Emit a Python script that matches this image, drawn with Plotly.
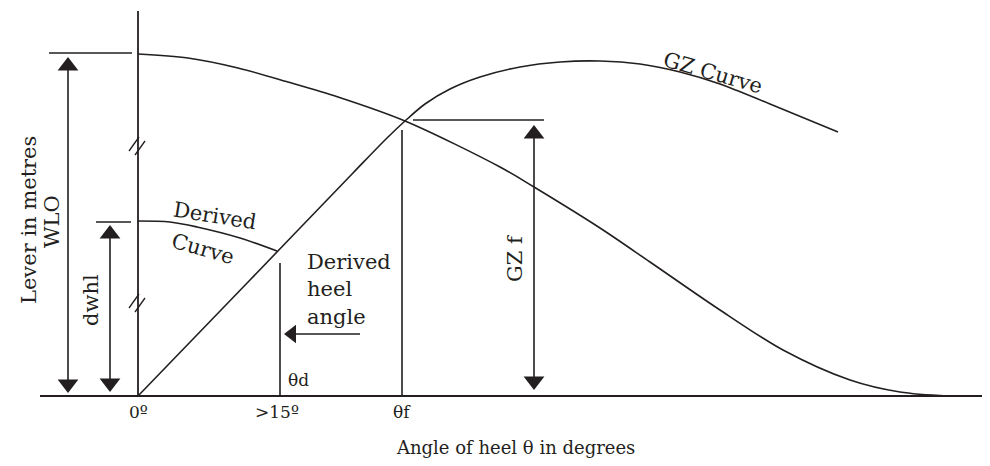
"""
Derived GZ / wind heeling lever diagram redrawn with Plotly.
Coordinates are read off the reference picture (pixel space, y downwards).
"""

import plotly.graph_objects as go

# --- data -----------------------------------------------------------------
# wind heeling lever curve (WLO)
wlo_x = [138, 188, 238, 288, 338, 405, 500, 534, 600, 650, 717, 783, 850, 900, 948]
wlo_y = [54, 58, 68, 82, 97, 121, 167, 187, 228, 262, 308, 350, 380, 392, 396]

# righting lever curve (GZ)
gz_x = [138, 250, 353, 387, 405, 425, 450, 480, 520, 560, 600, 640, 680, 720, 770, 838]
gz_y = [396, 280, 173, 138, 121, 104, 89, 77, 67, 62, 61, 64, 72, 84, 104, 132]

# derived (reduced) heeling lever curve
derived_x = [138, 170, 197, 240, 277]
derived_y = [221, 222, 227, 238, 251]

# tick labels along the heel axis
tick_pos = [138, 277, 402]
tick_labels = ["0º", ">15º", "θf"]

INK = "#231f20"
FONT = "DejaVu Serif"
PAGE_MARGIN = 8  # browser default body margin round the plot div

fig = go.Figure()


def add_line(xs, ys, shape="linear", width=1.6):
    fig.add_trace(go.Scatter(
        x=xs, y=ys, mode="lines",
        line=dict(color=INK, width=width, shape=shape, smoothing=0.9),
        hoverinfo="skip", showlegend=False,
    ))


def add_head(x, y, symbol, size=18):
    fig.add_trace(go.Scatter(
        x=[x], y=[y], mode="markers",
        marker=dict(symbol=symbol, size=size, color=INK, line=dict(width=0)),
        hoverinfo="skip", showlegend=False,
    ))


def add_double_arrow(x, top, bottom, size=18):
    half = size / 2
    add_line([x, x], [top + 4, bottom - 4])
    add_head(x, top + half, "triangle-up", size)
    add_head(x, bottom - half, "triangle-down", size)


# axes of the diagram
add_line([40, 990], [396, 396], width=1.8)
add_line([138, 138], [11, 396], width=1.8)

# axis break marks
for y0 in [143, 300]:
    add_line([129, 139], [y0 + 8, y0 - 6], width=1.3)
    add_line([135, 145], [y0 + 12, y0 - 2], width=1.3)

# curves
add_line(wlo_x, wlo_y, shape="spline")
add_line(gz_x, gz_y, shape="spline")
add_line(derived_x, derived_y, shape="spline")

# reference lines
add_line([49, 132], [53, 53])
add_line([96, 131], [222, 222])
add_line([413, 544], [120, 120])
add_line([280, 280], [263, 396])
add_line([402, 402], [130, 396])

# dimension arrows
add_double_arrow(68, 57, 393)
add_double_arrow(110, 225, 392)
add_double_arrow(534, 125, 390)

# derived heel angle pointer
add_line([292, 360], [334, 334])
add_head(292, 334, "triangle-left", 16)

annotations = [
    dict(x=29, y=220, text="Lever in metres", textangle=-90, size=21),
    dict(x=52, y=222, text="WLO", textangle=-90, size=21),
    dict(x=91, y=300, text="dwhl", textangle=-90, size=21),
    dict(x=515, y=258, text="GZ f", textangle=-90, size=21),
    dict(x=215, y=216, text="Derived", textangle=9, size=21),
    dict(x=203, y=249, text="Curve", textangle=16, size=21),
    dict(x=713, y=73, text="GZ Curve", textangle=16, size=21),
    dict(x=298, y=380, text="θd", textangle=0, size=17),
    dict(x=515, y=447, text="Angle of heel θ in degrees", textangle=0, size=18),
]
for a in annotations:
    fig.add_annotation(
        x=a["x"], y=a["y"], xref="x", yref="y", text=a["text"],
        textangle=a["textangle"], showarrow=False,
        font=dict(family=FONT, size=a["size"], color=INK),
    )

for label, ypos in zip(["Derived", "heel", "angle"], [262, 289, 317]):
    fig.add_annotation(
        x=305, y=ypos, xref="x", yref="y", text=label, xanchor="left",
        showarrow=False, font=dict(family=FONT, size=21, color=INK),
    )

for xpos, label in zip(tick_pos, tick_labels):
    fig.add_annotation(
        x=xpos, y=412, xref="x", yref="y", text=label, showarrow=False,
        font=dict(family=FONT, size=17, color=INK),
    )

# the page adds an 8px margin, so shrink the figure and shift the ranges
fig.update_layout(
    width=990 - 2 * PAGE_MARGIN, height=466 - 2 * PAGE_MARGIN,
    margin=dict(l=0, r=0, t=0, b=0),
    paper_bgcolor="white", plot_bgcolor="white",
    xaxis=dict(range=[PAGE_MARGIN, 990 - PAGE_MARGIN], visible=False, fixedrange=True),
    yaxis=dict(range=[466 - PAGE_MARGIN, PAGE_MARGIN], visible=False, fixedrange=True),
    showlegend=False,
)

fig.write_html("out.html")
